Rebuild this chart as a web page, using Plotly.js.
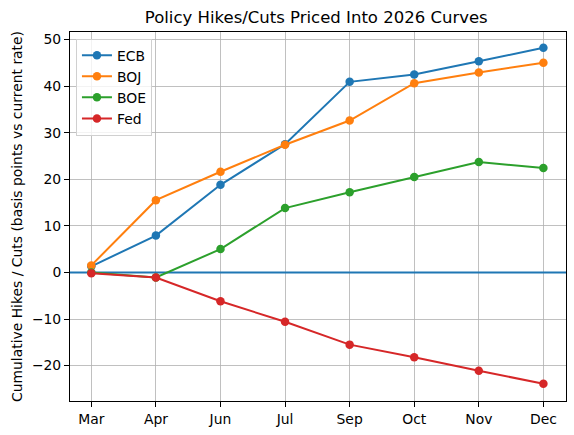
<!DOCTYPE html>
<html>
<head>
<meta charset="utf-8">
<script src="https://cdn.plot.ly/plotly-3.0.1.min.js"></script>
<style>
  html, body { margin: 0; padding: 0; background: #fff; }
  #chart { width: 574px; height: 435px; }
</style>
</head>
<body>
<div id="chart"></div>
<script>
// Meeting months on the curve
const months = ["Mar", "Apr", "Jun", "Jul", "Sep", "Oct", "Nov", "Dec"];

// Cumulative hikes/cuts in bp vs current rate
const ecb = [1.3, 7.9, 18.8, 27.5, 40.9, 42.5, 45.3, 48.2];
const boj = [1.5, 15.5, 21.6, 27.4, 32.6, 40.6, 42.9, 45.0];
const boe = [0.0, -1.1, 5.0, 13.8, 17.2, 20.5, 23.7, 22.4];
const fed = [-0.2, -1.1, -6.2, -10.6, -15.5, -18.2, -21.1, -23.9];

const yTicks = [-20, -10, 0, 10, 20, 30, 40, 50];

const FONT = "DejaVu Sans, sans-serif";
const X_RANGE = [-0.33, 7.35];

function series(y, name, color) {
  return {
    x: months.map((_, i) => i),
    y,
    name,
    type: "scatter",
    mode: "lines+markers",
    line: { color, width: 2 },
    marker: { color, size: 8.5 },
  };
}

// zero reference line spanning the whole x range, drawn first so it sits under the series
const zeroLine = {
  x: X_RANGE,
  y: [0, 0],
  type: "scatter",
  mode: "lines",
  line: { color: "#1f77b4", width: 2 },
  showlegend: false,
  hoverinfo: "skip",
};

const traces = [
  zeroLine,
  series(ecb, "ECB", "#1f77b4"),
  series(boj, "BOJ", "#ff7f0e"),
  series(boe, "BOE", "#2ca02c"),
  series(fed, "Fed", "#d62728"),
];

const layout = {
  width: 574,
  height: 435,
  margin: { l: 70, r: 8, t: 32, b: 34 },
  paper_bgcolor: "#fff",
  plot_bgcolor: "#fff",
  font: { family: FONT, size: 13.9, color: "#000" },
  title: {
    text: "Policy Hikes/Cuts Priced Into 2026 Curves",
    font: { family: FONT, size: 16.5, color: "#000" },
    x: 0.551,
    xanchor: "center",
    y: 0.96,
    yanchor: "middle",
  },
  xaxis: {
    range: X_RANGE,
    tickmode: "array",
    tickvals: months.map((_, i) => i),
    ticktext: months,
    showgrid: true,
    gridcolor: "#b0b0b0",
    gridwidth: 0.8,
    zeroline: false,
    showline: true,
    mirror: true,
    linecolor: "#000",
    linewidth: 1,
    ticks: "outside",
    ticklen: 5,
    tickcolor: "#000",
    tickfont: { family: FONT, size: 13.9 },
  },
  yaxis: {
    range: [-27.6, 51.6],
    tickmode: "array",
    tickvals: yTicks,
    ticktext: yTicks.map((v) => (v < 0 ? "\u2212" + Math.abs(v) : String(v))),
    showgrid: true,
    gridcolor: "#b0b0b0",
    gridwidth: 0.8,
    zeroline: false,
    showline: true,
    mirror: true,
    linecolor: "#000",
    linewidth: 1,
    ticks: "outside",
    ticklen: 5,
    tickcolor: "#000",
    tickfont: { family: FONT, size: 13.9 },
    title: {
      text: "Cumulative Hikes / Cuts (basis points vs current rate)",
      font: { family: FONT, size: 13.9 },
      standoff: 6,
    },
  },
  legend: {
    x: 0.012,
    y: 0.982,
    xanchor: "left",
    yanchor: "top",
    bgcolor: "rgba(255,255,255,0.8)",
    bordercolor: "#d0d0d0",
    borderwidth: 1,
    font: { family: FONT, size: 13.9 },
    tracegroupgap: 0,
  },
  showlegend: true,
};

Plotly.newPlot("chart", traces, layout, { displayModeBar: false, staticPlot: true });
</script>
</body>
</html>
